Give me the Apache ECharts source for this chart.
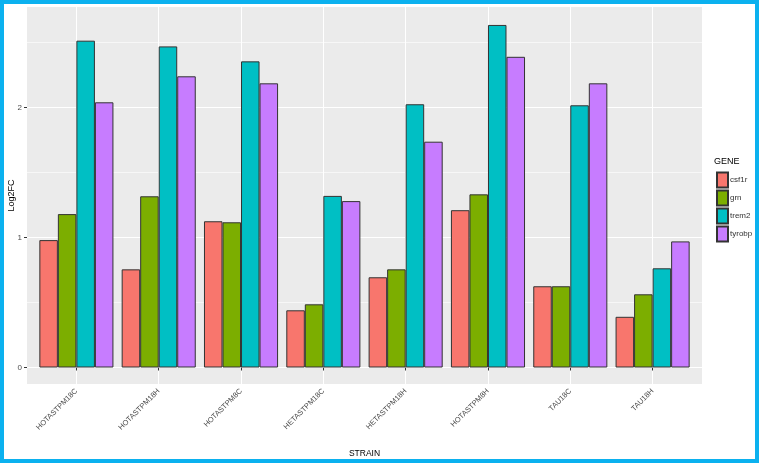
<!DOCTYPE html>
<html>
<head>
<meta charset="utf-8">
<script src="https://cdn.jsdelivr.net/npm/echarts@6/dist/echarts.min.js"></script>
<style>
html,body{margin:0;padding:0;background:#fff;}
#wrap{position:relative;width:759px;height:463px;}
#chart{position:absolute;left:0;top:0;width:759px;height:463px;}
#frame{position:absolute;left:0;top:0;width:759px;height:463px;box-sizing:border-box;border:4px solid #0BB1EF;pointer-events:none;}
</style>
</head>
<body>
<div id="wrap"><div id="chart"></div><div id="frame"></div></div>
<script>
const categories = ['HOTASTPM18C','HOTASTPM18H','HOTASTPM8C','HETASTPM18C','HETASTPM18H','HOTASTPM8H','TAU18C','TAU18H'];
const genes = ['csf1r','grn','trem2','tyrobp'];
const csf1r  = [0.98, 0.755, 1.125, 0.44, 0.694, 1.21, 0.625, 0.39];
const grn    = [1.18, 1.317, 1.117, 0.486, 0.755, 1.332, 0.625, 0.563];
const trem2  = [2.514, 2.47, 2.355, 1.32, 2.025, 2.635, 2.017, 0.763];
const tyrobp = [2.04, 2.24, 2.186, 1.28, 1.737, 2.39, 2.186, 0.97];
const yTicks = [0, 1, 2];

const colors = ['#F8766D', '#7CAE00', '#00BFC4', '#C77CFF'];
const seriesData = [csf1r, grn, trem2, tyrobp];

// layout constants (px)
const panelLeft = 27, panelTop = 7, panelW = 675, panelH = 377;
const zeroY = 367.5, unit = 130;
const band = panelW / 8.2;
const yMin = -(panelTop + panelH - zeroY) / unit;
const yMax = (zeroY - panelTop) / unit;

const chart = echarts.init(document.getElementById('chart'));
const txt = '#4D4D4D';
const font = 'Liberation Sans, Arial, sans-serif';

chart.setOption({
  animation: false,
  textStyle: { fontFamily: font },
  title: {
    text: 'GENE', left: 714, top: 157, padding: 0,
    textStyle: { fontSize: 9, fontWeight: 'normal', color: '#000', fontFamily: font }
  },
  legend: {
    data: genes, orient: 'vertical', left: 716, top: 171.5,
    itemWidth: 11, itemHeight: 15, itemGap: 1, padding: 0,
    icon: 'rect',
    textStyle: { fontSize: 8, color: '#333', fontFamily: font, padding: [0, 0, 0, -3] }
  },
  grid: [
    { left: panelLeft, top: panelTop, width: panelW, height: panelH, show: true, backgroundColor: '#EBEBEB', borderWidth: 0, outerBoundsMode: 'none' },
    { left: panelLeft, top: zeroY - 3 * unit, width: panelW, height: 3 * unit, outerBoundsMode: 'none' },
    { left: panelLeft + 0.1 * band, top: panelTop, width: 8 * band, height: panelH, outerBoundsMode: 'none' }
  ],
  xAxis: [
    { gridIndex: 0, type: 'value', min: 0, max: 1, name: 'STRAIN', nameLocation: 'middle', nameGap: 65,
      nameTextStyle: { fontSize: 8.5, color: '#000', fontFamily: font },
      axisLine: { show: false }, axisTick: { show: false }, axisLabel: { show: false }, splitLine: { show: false } },
    { gridIndex: 1, type: 'value', min: 0, max: 1, show: false },
    { gridIndex: 2, type: 'category', data: categories,
      axisLine: { show: false },
      axisTick: { show: true, alignWithLabel: true, length: 3, lineStyle: { color: '#333', width: 1 } },
      axisLabel: { rotate: 45, fontSize: 7.5, color: txt, margin: 6, interval: 0, fontFamily: font },
      splitLine: { show: true, alignWithLabel: true, lineStyle: { color: '#FFFFFF', width: 1 } } }
  ],
  yAxis: [
    { gridIndex: 0, type: 'value', min: 0, max: 1, name: 'Log2FC', nameLocation: 'middle', nameGap: 11, nameRotate: 90,
      nameTextStyle: { fontSize: 9, color: '#000', fontFamily: font },
      axisLine: { show: false }, axisTick: { show: false }, axisLabel: { show: false }, splitLine: { show: false } },
    { gridIndex: 1, type: 'value', min: 0, max: 3, interval: 1,
      axisLine: { show: false },
      axisTick: { show: true, length: 3, lineStyle: { color: '#333', width: 1 } },
      axisLabel: { fontSize: 8, color: txt, margin: 5, fontFamily: font,
        formatter: v => (yTicks.indexOf(v) >= 0 ? String(v) : '') },
      splitLine: { show: true, lineStyle: { color: '#FFFFFF', width: 1.1 } },
      minorTick: { show: false, splitNumber: 2 },
      minorSplitLine: { show: true, lineStyle: { color: '#FFFFFF', width: 0.6 } } },
    { gridIndex: 2, type: 'value', min: yMin, max: yMax, show: false }
  ],
  series: genes.map((g, i) => ({
    name: g, type: 'bar', xAxisIndex: 2, yAxisIndex: 2,
    data: seriesData[i],
    barGap: '0%', barCategoryGap: '10%',
    itemStyle: { color: colors[i], borderColor: '#333', borderWidth: 1 }
  }))
});
</script>
</body>
</html>
